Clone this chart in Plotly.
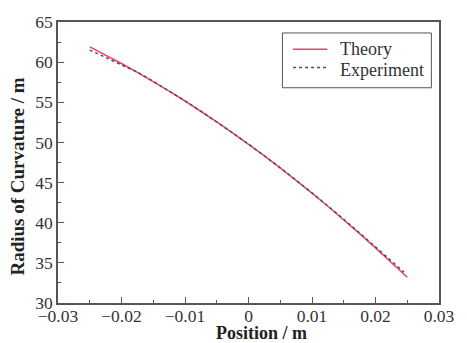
import plotly.graph_objects as go

# Radius of curvature along the position axis
position = [-0.025, -0.0225, -0.02, -0.0175, -0.015, -0.0125, -0.01, -0.0075,
            -0.005, -0.0025, 0.0, 0.0025, 0.005, 0.0075, 0.01, 0.0125, 0.015,
            0.0175, 0.02, 0.0225, 0.025]
theory = [61.90, 60.89, 59.83, 58.73, 57.59, 56.40, 55.16, 53.88, 52.56, 51.19,
          49.78, 48.32, 46.82, 45.27, 43.68, 42.05, 40.37, 38.64, 36.87, 35.06,
          33.20]

exp_position = [-0.025, -0.0225, -0.02, -0.0175, -0.015, -0.0125, -0.01, -0.0075,
                -0.005, -0.0025, 0.0, 0.0025, 0.005, 0.0075, 0.01, 0.0125, 0.015,
                0.0175, 0.02, 0.0225, 0.0245]
experiment = [61.50, 60.55, 59.62, 58.75, 57.62, 56.42, 55.18, 53.90, 52.57, 51.20,
              49.80, 48.34, 46.84, 45.30, 43.72, 42.10, 40.43, 38.72, 36.97, 35.20,
              33.85]

x_ticks = [-0.03, -0.02, -0.01, 0, 0.01, 0.02, 0.03]
x_tick_text = ["\u22120.03", "\u22120.02", "\u22120.01", "0", "0.01", "0.02", "0.03"]
y_ticks = [30, 35, 40, 45, 50, 55, 60, 65]

FONT = "Liberation Serif, Times New Roman, serif"
AXIS_COLOR = "#555555"
THEORY_COLOR = "#f2406a"
EXP_COLOR = "#505050"
EXP_DASH = "3px,3px"

fig = go.Figure()
fig.add_trace(go.Scatter(
    x=position, y=theory, mode="lines", name="Theory",
    line=dict(color=THEORY_COLOR, width=1.5),
))
fig.add_trace(go.Scatter(
    x=exp_position, y=experiment, mode="lines", name="Experiment",
    line=dict(color=EXP_COLOR, width=1.5, dash=EXP_DASH),
))

axis_common = dict(
    showgrid=False, zeroline=False,
    showline=True, linecolor=AXIS_COLOR, linewidth=1.5, mirror=True,
    ticks="inside", tickcolor=AXIS_COLOR, tickwidth=1.2, ticklen=6,
    tickfont=dict(family=FONT, size=17.5, color="#333333"),
)

fig.update_xaxes(
    range=[-0.03, 0.03], tickmode="array", tickvals=x_ticks, ticktext=x_tick_text,
    ticklabelstandoff=-4,
    minor=dict(ticks="inside", ticklen=3, dtick=0.005, tick0=0,
               tickcolor=AXIS_COLOR, tickwidth=1.2),
    **axis_common,
)
fig.update_yaxes(
    range=[30, 65], tickmode="array", tickvals=y_ticks,
    minor=dict(ticks="inside", ticklen=3, dtick=2.5, tick0=30,
               tickcolor=AXIS_COLOR, tickwidth=1.2),
    **axis_common,
)

# Axis titles
fig.add_annotation(
    text="<b>Position / m</b>", xref="paper", yref="paper",
    x=0.533, y=-0.108, xanchor="center", yanchor="middle", showarrow=False,
    font=dict(family=FONT, size=18, color="#222222"),
)
fig.add_annotation(
    text="<b>Radius of Curvature / m</b>", xref="paper", yref="paper",
    x=-0.105, y=0.45, xanchor="center", yanchor="middle", showarrow=False,
    textangle=-90, font=dict(family=FONT, size=19, color="#222222"),
)

# Legend box drawn in paper coordinates
fig.add_shape(type="rect", xref="paper", yref="paper",
              x0=0.589, x1=0.980, y0=0.766, y1=0.961,
              line=dict(color=AXIS_COLOR, width=1), fillcolor="white", layer="above")
legend_rows = [
    ("Theory", THEORY_COLOR, "solid", 0.903, 0.905),
    ("Experiment", EXP_COLOR, EXP_DASH, 0.838, 0.830),
]
for label, color, dash, line_y, text_y in legend_rows:
    fig.add_shape(type="line", xref="paper", yref="paper",
                  x0=0.617, x1=0.707, y0=line_y, y1=line_y,
                  line=dict(color=color, width=1.5, dash=dash), layer="above")
    fig.add_annotation(
        text=label, xref="paper", yref="paper", x=0.735, y=text_y,
        xanchor="left", yanchor="middle", showarrow=False,
        font=dict(family=FONT, size=18, color="#333333"),
    )

fig.update_layout(
    width=467, height=343,
    margin=dict(l=58, r=17, t=21, b=40),
    paper_bgcolor="white", plot_bgcolor="white",
    showlegend=False,
)

fig.write_html("out.html")
